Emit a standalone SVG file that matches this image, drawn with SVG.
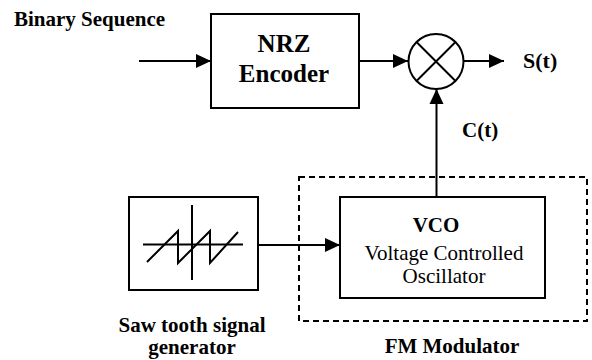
<svg xmlns="http://www.w3.org/2000/svg" width="592" height="360" viewBox="0 0 592 360">
<style>
.box{fill:#fff;stroke:#000;stroke-width:2}
.ln{fill:none;stroke:#000;stroke-width:2}
text{font-family:'Liberation Serif','Times New Roman','DejaVu Serif',serif;fill:#000}
.b{font-weight:bold}
</style>
<defs>
<marker id="ah" markerUnits="userSpaceOnUse" markerWidth="16" markerHeight="16" refX="15" refY="8" orient="auto">
<path d="M0,1 L15,8 L0,15 Z" fill="#000"/>
</marker>
</defs>
<rect width="592" height="360" fill="#fff"/>
<text class="b" x="14" y="26" font-size="21">Binary Sequence</text>
<g id="fm-modulator">
<rect x="299" y="177" width="288" height="144" fill="none" stroke="#000" stroke-width="2" stroke-dasharray="6,4"/>
<text class="b" x="452" y="353" font-size="21" text-anchor="middle">FM Modulator</text>
</g>
<g id="nrz">
<rect class="box" x="211" y="14" width="148" height="94"/>
<text class="b" x="284" y="52" font-size="25" text-anchor="middle">NRZ</text>
<text class="b" x="284" y="82" font-size="25" text-anchor="middle">Encoder</text>
</g>
<g id="mixer">
<circle class="ln" cx="436" cy="61.5" r="27.5"/>
<path class="ln" d="M416.5,42 L455.5,81 M455.5,42 L416.5,81"/>
</g>
<g id="vco">
<rect class="box" x="340" y="197" width="205" height="101"/>
<text class="b" x="436" y="232" font-size="21" text-anchor="middle">VCO</text>
<text x="444" y="260" font-size="21" text-anchor="middle">Voltage Controlled</text>
<text x="444" y="283" font-size="21" text-anchor="middle">Oscillator</text>
</g>
<g id="sawtooth">
<rect class="box" x="129" y="197" width="129" height="93"/>
<path class="ln" d="M143,244.5 L243,244.5 M192,205 L192,280"/>
<path class="ln" d="M147,262 L178,231 L178,263 L210,231 L210,263 L238,232"/>
<text class="b" x="192" y="332" font-size="21" text-anchor="middle">Saw tooth signal</text>
<text class="b" x="192" y="354" font-size="21" text-anchor="middle">generator</text>
</g>
<g id="connectors">
<line class="ln" x1="139" y1="61" x2="211" y2="61" marker-end="url(#ah)"/>
<line class="ln" x1="359" y1="61" x2="408" y2="61" marker-end="url(#ah)"/>
<line class="ln" x1="463" y1="61" x2="504" y2="61" marker-end="url(#ah)"/>
<line class="ln" x1="436.5" y1="197" x2="436.5" y2="89" marker-end="url(#ah)"/>
<line class="ln" x1="258" y1="245" x2="340" y2="245" marker-end="url(#ah)"/>
<text class="b" x="523" y="68" font-size="22">S(t)</text>
<text class="b" x="462" y="137" font-size="21">C(t)</text>
</g>
</svg>
